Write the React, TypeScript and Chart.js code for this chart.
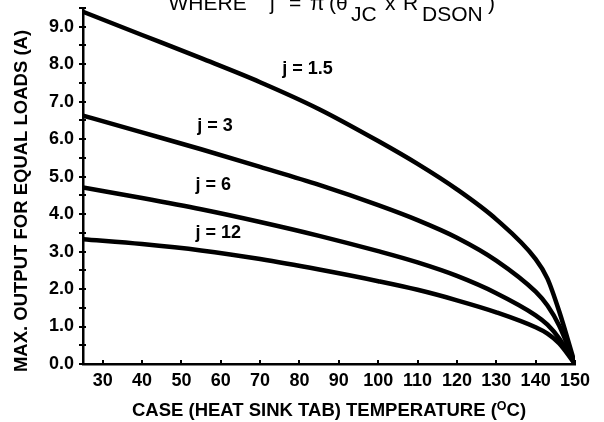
import React, { useEffect, useRef } from "react";
import { Chart, registerables } from "chart.js";

Chart.register(...registerables);

// ---- data ----
const temperatures = [25, 40, 55, 70, 85, 100, 110, 120, 130, 140, 143, 146, 150];
const currentJ15 = [9.4, 8.78, 8.16, 7.52, 6.8, 5.95, 5.34, 4.66, 3.86, 2.8, 2.28, 1.4, 0];
const currentJ3 = [6.63, 6.18, 5.73, 5.26, 4.78, 4.24, 3.84, 3.37, 2.76, 1.93, 1.56, 1.02, 0];
const currentJ6 = [4.71, 4.43, 4.13, 3.79, 3.42, 3.01, 2.71, 2.35, 1.89, 1.3, 1.05, 0.68, 0];
const currentJ12 = [3.33, 3.2, 3.03, 2.8, 2.52, 2.21, 1.98, 1.7, 1.38, 0.98, 0.81, 0.55, 0];
const seriesLabels = ["j = 1.5", "j = 3", "j = 6", "j = 12"];
const xTickValues = [30, 40, 50, 60, 70, 80, 90, 100, 110, 120, 130, 140, 150];
const xMin = 25;
const xMax = 150;
const yMin = 0;
const yMax = 9.5;
const yStep = 0.5;
const xTitle = "CASE (HEAT SINK TAB) TEMPERATURE (";
const xTitleSup = "O";
const xTitleEnd = "C)";
const yTitle = "MAX. OUTPUT FOR EQUAL LOADS (A)";

// label anchors (data units) for the curve annotations
const labelAnchorT = [75.6, 54.0, 53.6, 53.6];
const labelAnchorV = [7.88, 6.35, 4.77, 3.49];

const FONT = '"Liberation Sans", Arial, Helvetica, sans-serif';

const overlayPlugin = {
  id: "overlay",
  afterDraw(chart: any) {
    const ctx = chart.ctx as CanvasRenderingContext2D;
    const xs = chart.scales.x;
    const ys = chart.scales.y;
    const area = chart.chartArea;
    ctx.save();
    ctx.strokeStyle = "#000";
    ctx.fillStyle = "#000";
    // y tick marks (crossing axis)
    ctx.lineWidth = 2;
    ys.ticks.forEach((t: any) => {
      const py = Math.round(ys.getPixelForValue(t.value));
      ctx.beginPath();
      ctx.moveTo(area.left - 4, py);
      ctx.lineTo(area.left + 3, py);
      ctx.stroke();
    });
    // x tick marks (inside)
    xs.ticks.forEach((t: any) => {
      const px = Math.round(xs.getPixelForValue(t.value));
      ctx.beginPath();
      ctx.moveTo(px, area.bottom);
      ctx.lineTo(px, area.bottom - 4);
      ctx.stroke();
    });

    // curve labels
    ctx.font = `bold 18px ${FONT}`;
    ctx.textAlign = "left";
    ctx.textBaseline = "middle";
    seriesLabels.forEach((lab, i) => {
      ctx.fillText(lab, xs.getPixelForValue(labelAnchorT[i]), ys.getPixelForValue(labelAnchorV[i]));
    });

    // x title with superscript
    const cx = (area.left + area.right) / 2;
    const ty = 409;
    const big = `bold 18.5px ${FONT}`;
    const small = `bold 12.5px ${FONT}`;
    ctx.font = big;
    const w1 = ctx.measureText(xTitle).width;
    const w3 = ctx.measureText(xTitleEnd).width;
    ctx.font = small;
    const w2 = ctx.measureText(xTitleSup).width;
    const total = w1 + w2 + w3;
    const x0 = cx - total / 2;
    ctx.textBaseline = "alphabetic";
    ctx.font = big;
    ctx.fillText(xTitle, x0, ty + 6.5);
    ctx.font = small;
    ctx.fillText(xTitleSup, x0 + w1, ty + 0.5);
    ctx.font = big;
    ctx.fillText(xTitleEnd, x0 + w1 + w2, ty + 6.5);

    // y title
    ctx.save();
    ctx.translate(21.5, 201);
    ctx.rotate(-Math.PI / 2);
    ctx.textAlign = "center";
    ctx.textBaseline = "middle";
    ctx.font = big;
    ctx.fillText(yTitle, 0, 0);
    ctx.restore();

    // formula at top (cut off by the edge)
    ctx.font = `21px ${FONT}`;
    ctx.textAlign = "left";
    ctx.textBaseline = "alphabetic";
    const mainY = 9.5;
    const subY = 21;
    const parts: [string, number, number][] = [
      ["WHERE", 168.5, mainY],
      ["j", 270, mainY],
      ["=", 289, mainY],
      ["\u03C0", 310, mainY],
      ["(", 329, mainY],
      ["\u03B8", 336, mainY],
      ["JC", 351, subY],
      ["x", 385, mainY],
      ["R", 403, mainY],
      ["DSON", 422, subY],
      [")", 488, mainY],
    ];
    parts.forEach(([s, x, y]) => ctx.fillText(s, x, y));
    ctx.restore();
  },
};

export default function App() {
  const ref = useRef<HTMLCanvasElement | null>(null);
  useEffect(() => {
    if (!ref.current) return;
    const mk = (vals: number[]) => temperatures.map((t, i) => ({ x: t, y: vals[i] }));
    const ds = (label: string, vals: number[]) => ({
      label,
      data: mk(vals),
      borderColor: "#000",
      backgroundColor: "#000",
      borderWidth: 4.5,
      pointRadius: 0,
      fill: false,
      cubicInterpolationMode: "monotone" as const,
    });
    const chart = new Chart(ref.current, {
      type: "line",
      data: {
        datasets: [
          ds(seriesLabels[0], currentJ15),
          ds(seriesLabels[1], currentJ3),
          ds(seriesLabels[2], currentJ6),
          ds(seriesLabels[3], currentJ12),
        ],
      },
      options: {
        responsive: false,
        animation: false,
        devicePixelRatio: 1,
        layout: { padding: { left: 0, right: 29, top: 8, bottom: 0 } },
        plugins: { legend: { display: false }, tooltip: { enabled: false } },
        scales: {
          x: {
            type: "linear",
            min: xMin,
            max: xMax,
            afterBuildTicks: (s: any) => {
              s.ticks = xTickValues.map((v) => ({ value: v }));
            },
            afterFit: (s: any) => {
              s.height = 58;
              s.paddingLeft = 0;
              s.paddingRight = 0;
            },
            grid: { display: true, drawOnChartArea: false, drawTicks: false },
            border: { display: true, color: "#000", width: 2.5 },
            ticks: {
              color: "#000",
              padding: 6,
              maxRotation: 0,
              autoSkip: false,
              font: { family: FONT, size: 18, weight: "bold" },
              callback: (v: any) => String(v),
            },
          },
          y: {
            type: "linear",
            min: yMin,
            max: yMax,
            afterFit: (s: any) => {
              s.width = 83;
              s.paddingTop = 0;
              s.paddingBottom = 0;
            },
            grid: { display: true, drawOnChartArea: false, drawTicks: false },
            border: { display: true, color: "#000", width: 2.5 },
            ticks: {
              stepSize: yStep,
              color: "#000",
              padding: 9,
              autoSkip: false,
              font: { family: FONT, size: 18, weight: "bold" },
              callback: (v: any) => (Number.isInteger(Number(v)) ? Number(v).toFixed(1) : ""),
            },
          },
        },
      },
      plugins: [overlayPlugin],
    });
    return () => chart.destroy();
  }, []);
  return (
    <div style={{ position: "fixed", left: 0, top: 0, width: 604, height: 422, background: "#fff" }}>
      <canvas ref={ref} width={604} height={422} style={{ display: "block", width: 604, height: 422 }} />
    </div>
  );
}
